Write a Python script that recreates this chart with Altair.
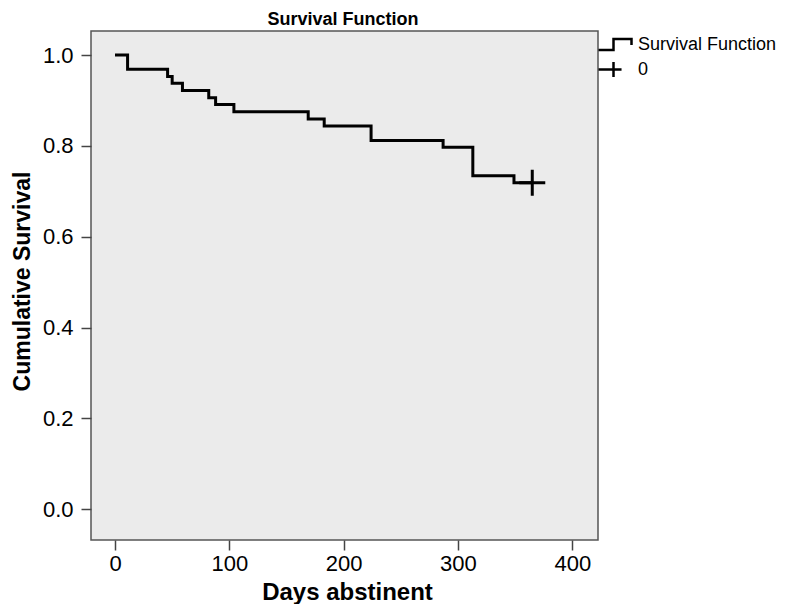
import altair as alt
import pandas as pd

# Kaplan-Meier step data
days = [0, 11, 46, 50, 59, 82, 88, 104, 169, 183, 224, 287, 313, 349, 365]
survival = [1.0, 0.969, 0.953, 0.938, 0.922, 0.906, 0.891, 0.875, 0.859, 0.844,
            0.812, 0.797, 0.734, 0.719, 0.719]
censored_days = [365]
censored_surv = [0.719]
series_names = ["Survival Function", "0"]
x_ticks = [0, 100, 200, 300, 400]
y_ticks = [0.0, 0.2, 0.4, 0.6, 0.8, 1.0]
chart_title = "Survival Function"

line_df = pd.DataFrame({"day": days, "surv": survival, "series": series_names[0]})
cens_df = pd.DataFrame({"day": censored_days, "surv": censored_surv, "series": series_names[1]})

FONT = "Liberation Sans"

STEP_PATH = "M-1,0.46H0.25V-0.46H1.75V0.05"
CROSS_PATH = "M-1,0H0.92M0.25,-0.62V0.62"
CENSOR_MARK = "M-1,0H1M0,-1V1"

xs = alt.Scale(domain=[-21, 422.5], nice=False, zero=False)
ys = alt.Scale(domain=[-0.068, 1.053], nice=False, zero=False)
stroke_scale = alt.Scale(domain=series_names, range=["black", "black"])
shape_scale = alt.Scale(domain=series_names, range=[STEP_PATH, CROSS_PATH])

legend = alt.Legend(
    title=None, orient="none", legendX=506, legendY=0, padding=0,
    labelFont=FONT, labelFontSize=18, labelColor="black", labelOffset=14,
    rowPadding=0, symbolSize=576, symbolStrokeWidth=2.5,
    symbolStrokeColor="black", symbolFillColor="transparent", symbolOpacity=1,
)

x_enc = alt.X("day:Q", scale=xs, axis=alt.Axis(
    values=x_ticks, title="Days abstinent", titleFont=FONT, titleFontSize=24,
    titleFontWeight="bold", titleColor="black", titleBaseline="alphabetic",
    titleY=59, titleX=256, labelFont=FONT, labelFontSize=22, labelColor="black",
    labelPadding=3, tickSize=10, tickColor="#444", tickWidth=1.5, domain=False,
    grid=False))
y_enc = alt.Y("surv:Q", scale=ys, axis=alt.Axis(
    values=y_ticks, format=".1f", title="Cumulative Survival", titleFont=FONT,
    titleFontSize=23, titleFontWeight="bold", titleColor="black", titleAngle=-90,
    titleBaseline="alphabetic", titleX=-62, titleY=250, labelFont=FONT,
    labelFontSize=22, labelColor="black", labelPadding=8, tickSize=10,
    tickColor="#444", tickWidth=1.5, domain=False, grid=False))

line = alt.Chart(line_df).mark_line(interpolate="step-after", strokeWidth=3).encode(
    x=x_enc, y=y_enc,
    stroke=alt.Stroke("series:N", scale=stroke_scale, legend=legend),
)
cens = alt.Chart(cens_df).mark_point(size=676, strokeWidth=3, filled=False,
                                      opacity=0).encode(
    x=alt.X("day:Q", scale=xs), y=alt.Y("surv:Q", scale=ys),
    stroke=alt.Stroke("series:N", scale=stroke_scale, legend=legend),
    shape=alt.Shape("series:N", scale=shape_scale, legend=legend),
    opacity=alt.value(0),
)
# actual censor mark on the plot drawn as a symmetric cross
cens_mark = alt.Chart(cens_df).mark_point(shape=CENSOR_MARK, size=676, strokeWidth=3,
                                           filled=False, opacity=1, color="black").encode(
    x=alt.X("day:Q", scale=xs), y=alt.Y("surv:Q", scale=ys),
)
# chart title as a text mark above the plot frame
title_mark = alt.Chart(pd.DataFrame({"t": [chart_title]})).mark_text(
    font=FONT, fontSize=18, fontWeight="bold", color="black", align="center",
    baseline="alphabetic",
).encode(text="t:N", x=alt.value(252), y=alt.value(-6))

chart = alt.layer(line, cens, cens_mark, title_mark).properties(
    width=507, height=509,
    autosize="none",
    padding={"left": 83, "top": 23, "right": 182, "bottom": 64},
).configure_view(
    fill="#ebebeb", stroke="#555555", strokeWidth=1.5
)

chart.save("out.html", embed_options={"renderer": "svg", "actions": False})
